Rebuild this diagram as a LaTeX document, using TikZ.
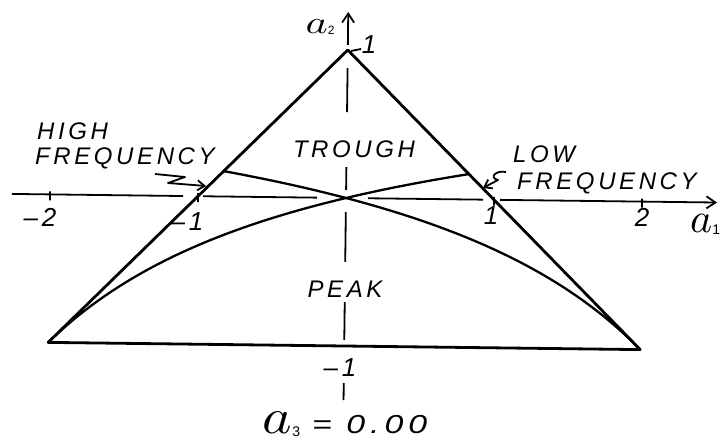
\documentclass[tikz,border=0pt]{standalone}
\usepackage{fontspec}
\usepackage{graphicx}
\setmainfont{Liberation Sans}
\newfontfamily\handfont[LetterSpace=15]{Liberation Sans}
\usetikzlibrary{arrows.meta}
\begin{document}
\begin{tikzpicture}[x=1pt,y=-1pt,
  lbl/.style={inner sep=0pt, font=\handfont\itshape\fontsize{24}{24}\selectfont},
  num/.style={inner sep=0pt, font=\handfont\itshape\fontsize{26}{26}\selectfont},
  avar/.style={inner sep=0pt},
  edgel/.style={line width=2.8pt, line join=round, line cap=round},
  curvel/.style={line width=2.3pt, line cap=round},
  axisl/.style={line width=1.8pt},
  notel/.style={line width=1.8pt, line join=round},
  tip/.style={-{Straight Barb[length=9pt,width=12pt,line width=1.8pt]}},
  smalltip/.style={-{Straight Barb[length=7pt,width=10pt,line width=1.8pt]}},
]
\path[use as bounding box] (0,0) rectangle (721,444);

\begin{scope}[shift={(346pt,-198pt)}, x={(148pt,-1.8pt)}, y={(1.8pt,148pt)}]
  \coordinate (A) at (0,1);
  \coordinate (BL) at (-2,-1);
  \coordinate (BR) at (2,-1);
  \draw[edgel] (BL) -- (A) -- (BR) -- cycle;
  \draw[curvel] plot[domain=-2:0.8284,samples=120] (\x,{\x/(\x+4)});
  \draw[curvel] plot[domain=-0.8284:2,samples=120] (\x,{-\x/(4-\x)});
  % horizontal axis
  \coordinate (h0) at (-2.257,0);
  \coordinate (h1) at (-1.101,0);
  \coordinate (h2) at (-0.966,0);
  \coordinate (h3) at (-0.196,0);
  \coordinate (h4) at (0.149,0);
  \coordinate (h5) at (0.926,0);
  \coordinate (h6) at (1.041,0);
  \coordinate (h7) at (2.507,0);
  \draw[axisl] (h0)--(h1) (h2)--(h3) (h4)--(h5);
  \draw[axisl,tip] (h6)--(h7);
  % vertical axis
  \coordinate (v0) at (0,-1.365);
  \coordinate (v1) at (0,-1.25);
  \coordinate (v2) at (0,-0.959);
  \coordinate (v3) at (0,-0.703);
  \coordinate (v4) at (0,-0.432);
  \coordinate (v5) at (0,-0.095);
  \coordinate (v6) at (0,0.054);
  \coordinate (v7) at (0,0.209);
  \coordinate (v8) at (0,0.581);
  \coordinate (v9) at (0,0.878);
  \coordinate (v10) at (0,1.034);
  \coordinate (v11) at (0,1.257);
  \draw[axisl] (v0)--(v1) (v2)--(v3) (v4)--(v5) (v6)--(v7) (v8)--(v9);
  \draw[axisl,tip] (v10)--(v11);
  % ticks
  \foreach \t in {-2,-1,1,2} {
    \coordinate (tk\t a) at (\t,0.02);
    \coordinate (tk\t b) at (\t,-0.04);
    \draw[axisl] (tk\t a)--(tk\t b);
  }
\end{scope}

% apex tick
\coordinate (at1) at (351,51);
\coordinate (at2) at (361,49);
\draw[axisl] (at1)--(at2);

% labels
\node[lbl, anchor=west] (high) at (37,131) {HIGH};
\node[lbl, anchor=west] (hfreq) at (35,158) {FREQUENCY};
\node[lbl] (trough) at (354,149) {TROUGH};
\node[lbl, anchor=west] (low) at (513,154) {LOW};
\node[lbl, anchor=west] (lfreq) at (517,183) {FREQUENCY};
\node[lbl] (peak) at (345,289) {PEAK};

\node[num] (m2) at (40,217) {–2};
\node[num] (m1) at (187,222) {–1};
\node[num] (p1) at (491,216) {1};
\node[num] (p2) at (642,217) {2};
\node[num] (bm1) at (340,368) {–1};
\node[num] (t1) at (369,45) {1};

\node[avar] (a2) at (320,27) {\scalebox{4.2}[3.2]{$a$}\raisebox{-1pt}{\handfont\fontsize{12}{12}\selectfont 2}};
\node[avar, anchor=west] (a1) at (690,224) {\scalebox{4.2}{$a$}\raisebox{-2pt}{\handfont\fontsize{14}{14}\selectfont 1}};
\node[avar] (a3) at (345,424) {\scalebox{5.6}[5]{$a$}\raisebox{-3pt}{\handfont\fontsize{14}{14}\selectfont 3}\hspace{12pt}\scalebox{1.3}[1]{\handfont\itshape\fontsize{26}{26}\selectfont = 0.00}};

% HIGH FREQUENCY zigzag arrow
\coordinate (hz1) at (155,174);
\coordinate (hz2) at (185,177);
\coordinate (hz3) at (168,183);
\coordinate (hz4) at (206,186);
\draw[notel,smalltip] (hz1)--(hz2)--(hz3)--(hz4);

% LOW FREQUENCY S arrow
\coordinate (ls1) at (506,172);
\coordinate (ls2) at (498,180);
\coordinate (ls3) at (483,188);
\draw[notel,smalltip] (ls1) .. controls (495,170) and (489,178) .. (ls2) -- (ls3);
\end{tikzpicture}
\end{document}
